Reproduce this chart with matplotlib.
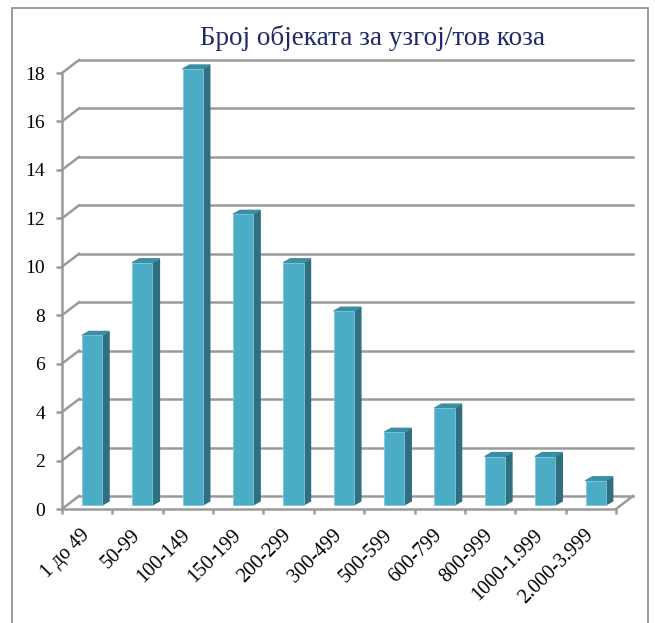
import matplotlib
matplotlib.use("Agg")
import matplotlib.pyplot as plt
import matplotlib.patches as patches
import numpy as np

# podaci
categories = ["1 до 49", "50-99", "100-149", "150-199", "200-299", "300-499",
              "500-599", "600-799", "800-999", "1000-1.999", "2.000-3.999"]
values = [7, 10, 18, 12, 10, 8, 3, 4, 2, 2, 1]
yticks = list(range(0, 19, 2))
title = "Број објеката за узгој/тов коза"

plt.rcParams['font.family'] = ['Liberation Serif', 'DejaVu Serif']

W, H = 655, 623
fig = plt.figure(figsize=(W / 100, H / 100), dpi=100)

# axes placed so the "front" of the 3D box matches the reference
ax = fig.add_axes([62 / W, 114 / H, 554 / W, 436 / H])
n = len(categories)
ax.set_xlim(-0.5, n - 0.5)
ax.set_ylim(0, 18)
for s in ax.spines.values():
    s.set_visible(False)

px_x = 554 / n      # pixels per category
px_y = 436 / 18     # pixels per unit
WX, WY = 17 / px_x, 13 / px_y        # depth of the box
bx, by = 4.8 / px_x, 4 / px_y        # bar front offset into the box
sdx, sdy = 7 / px_x, 4 / px_y        # bar own depth
bw = 0.4

grid_c = '#9a9a9a'
lw = 1.8

# back wall grid + side wall diagonals
x0, x1 = -0.5, n - 0.5
for v in yticks:
    ax.plot([x0 + WX, x1 + WX], [v + WY, v + WY], color=grid_c, lw=lw, clip_on=False, zorder=1)
    ax.plot([x0, x0 + WX], [v, v + WY], color=grid_c, lw=lw, clip_on=False, zorder=1)
# front axis + floor
ax.plot([x0, x0], [0, 18], color=grid_c, lw=lw, clip_on=False, zorder=1)
ax.plot([x0, x1], [0, 0], color=grid_c, lw=lw, clip_on=False, zorder=1)
ax.plot([x1, x1 + WX], [0, WY], color=grid_c, lw=lw, clip_on=False, zorder=1)

# bars
x = np.arange(n)
front = '#4bacc6'
side = '#2f6f80'
top = '#3d8ea4'
ax.bar(x + bx, values, width=bw, bottom=by, color=front, edgecolor='#7cc8dc',
       linewidth=0.6, zorder=3, clip_on=False)
for xi, v in zip(x, values):
    xl = xi + bx - bw / 2
    xr = xi + bx + bw / 2
    ax.fill([xr, xr + sdx, xr + sdx, xr], [by, by + sdy, v + by + sdy, v + by],
            color=side, zorder=2, clip_on=False)
    ax.fill([xl, xr, xr + sdx, xl + sdx], [v + by, v + by, v + by + sdy, v + by + sdy],
            color=top, zorder=2, clip_on=False)

# ticks
ax.set_yticks(yticks)
ax.tick_params(axis='y', direction='out', length=4.3, width=lw, color=grid_c,
               labelsize=14, pad=8)
ax.set_xticks(x)
ax.set_xticklabels(categories, rotation=45, ha='right', va='center', rotation_mode='anchor')
ax.tick_params(axis='x', which='major', length=0, labelsize=14.5, pad=17)
ax.set_xticks(np.arange(-0.5, n), minor=True)
ax.tick_params(axis='x', which='minor', direction='out', length=3.5, width=lw, color=grid_c)

fig.text(372 / W, 1 - 38 / H, title, ha='center', va='center', fontsize=19.5, color='#1f2a6b')

# outer frame
fig.patches.append(patches.Rectangle((12 / W, -0.05), 636 / W, 1.05 - 8 / H,
                                     transform=fig.transFigure, fill=False,
                                     edgecolor='#8a8a8a', lw=1.2))

fig.savefig('out.png', dpi=100)
